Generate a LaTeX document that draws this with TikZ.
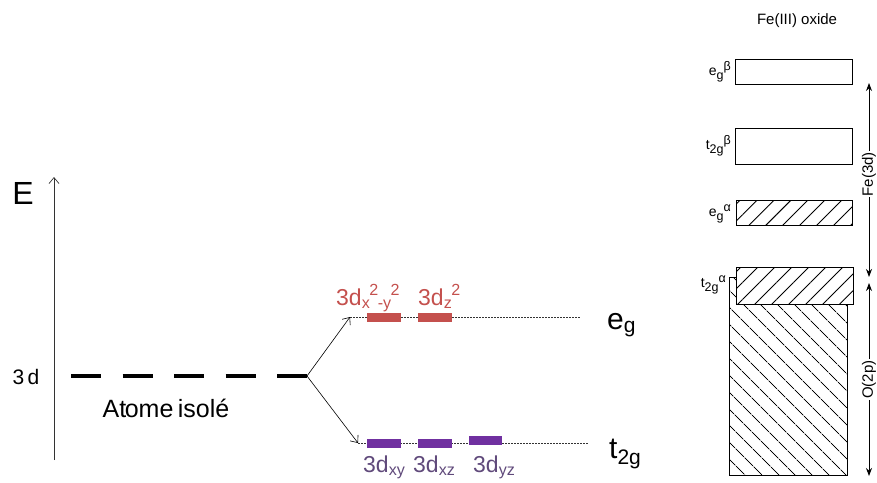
\documentclass[tikz,border=0pt]{standalone}
\usepackage{fontspec}
\setmainfont{Liberation Sans}
\usetikzlibrary{arrows.meta,patterns.meta}
\definecolor{egred}{RGB}{196,80,77}
\definecolor{tpurple}{RGB}{112,48,160}
\definecolor{tlabel}{RGB}{96,74,123}
\newcommand{\bsub}[1]{\raisebox{-3.5pt}{\fontsize{12.5}{13}\selectfont #1}}
\newcommand{\bsup}[1]{\raisebox{5pt}{\fontsize{12.5}{13}\selectfont #1}}
\tikzset{
  lvl/.style={draw=black!80, line width=0.6pt, dash pattern=on 2pt off 1pt},
  egbar/.style={fill=egred, draw=none},
  tbar/.style={fill=tpurple, draw=none},
  egtxt/.style={text=egred, font=\fontsize{23}{25}\selectfont, inner sep=0pt},
  ttxt/.style={text=tlabel, font=\fontsize{23}{25}\selectfont, inner sep=0pt},
  bandbox/.style={draw=black, line width=1pt, fill=white},
  bandlbl/.style={font=\fontsize{14}{16}\selectfont, inner sep=0pt, anchor=east},
  dbl/.style={{Stealth[length=8pt,width=6pt]}-{Stealth[length=8pt,width=6pt]}, line width=0.8pt},
  split/.style={-{Straight Barb[length=6pt,width=10pt]}, line width=0.6pt}
}
\begin{document}
\begin{tikzpicture}[x=1pt,y=-1pt]
\useasboundingbox (0,0) rectangle (877,482);
% ---------- left diagram ----------
\coordinate (axbot) at (54,460);
\coordinate (axtop) at (54,177);
\draw[-{Straight Barb[length=6pt,width=10pt]}, line width=0.7pt, black!80] (axbot) -- (axtop);
\node[font=\fontsize{32}{34}\selectfont, inner sep=0pt] (E) at (23,193) {E};
\node[font=\fontsize{21}{24}\selectfont, inner sep=0pt] (threed) at (26,377) {3\,d};
\coordinate (lvlstart) at (71,376);
\coordinate (splitpt) at (307,376);
\draw[line width=4.5pt, dash pattern=on 30pt off 21.5pt] (lvlstart) -- (splitpt);
\node[font=\fontsize{25}{27}\selectfont, inner sep=0pt, anchor=base] (atome) at (166,417) {At\kern-1.5pt ome\kern-2.5pt\ isolé};
\coordinate (egstart) at (350,317);
\coordinate (egend) at (580,317);
\coordinate (tstart) at (358,443);
\coordinate (tend) at (588,443);
\draw[lvl] (egstart) -- (egend);
\draw[lvl] (tstart) -- (tend);
\draw[split] (splitpt) -- (egstart);
\draw[split] (splitpt) -- (tstart);
% bars
\fill[egbar] (367,313) rectangle (401,322);
\fill[egbar] (418,313) rectangle (452,322);
\fill[tbar] (367,439) rectangle (401,448);
\fill[tbar] (418,439) rectangle (452,448);
\fill[tbar] (469,436) rectangle (502,445);
% labels
\node[egtxt, anchor=base west] (lx2y2) at (336,305) {3d\textsubscript{x}\kern-1pt\textsuperscript{2}\kern-1pt\textsubscript{-y}\kern-1pt\textsuperscript{2}};
\node[egtxt, anchor=base west] (lz2) at (418,305) {3d\textsubscript{z}\kern-1pt\textsuperscript{2}};
\node[ttxt, anchor=base west] (lxy) at (363,472) {3d\textsubscript{xy}};
\node[ttxt, anchor=base west] (lxz) at (413,472) {3d\textsubscript{xz}};
\node[ttxt, anchor=base west] (lyz) at (473,472) {3d\textsubscript{yz}};
\node[font=\fontsize{30}{32}\selectfont, inner sep=0pt, anchor=base west] (eg) at (607,329) {e\textsubscript{g}};
\node[font=\fontsize{30}{32}\selectfont, inner sep=0pt, anchor=base west] (t2g) at (609,458) {t\textsubscript{2g}};
% ---------- right diagram ----------
\node[font=\fontsize{15}{17}\selectfont, inner sep=0pt] (title) at (797,21) {Fe(III) oxide};
% O(2p) band
\draw[line width=1pt, pattern={Lines[angle=-45,distance=13pt,line width=0.9pt]}] (729,277) rectangle (847,475);
\draw[line width=1pt] (729,277) -- (735,277);
% t2g alpha
\draw[bandbox] (736,267) rectangle (853,304);
\path[pattern={Lines[angle=45,distance=12pt,line width=0.9pt]}] (736,267) rectangle (853,304);
% e_g alpha
\draw[bandbox] (736,200) rectangle (852,225);
\path[pattern={Lines[angle=45,distance=12pt,line width=0.9pt]}] (736,200) rectangle (852,225);
% beta boxes
\draw[bandbox] (735,128) rectangle (852,164);
\draw[bandbox] (735,59) rectangle (852,84);
% band labels
\node[bandlbl] (lebeta) at (731,72) {e\bsub{g}\bsup{β}};
\node[bandlbl] (ltbeta) at (731,146) {t\bsub{2g}\bsup{β}};
\node[bandlbl] (lealpha) at (731,214) {e\bsub{g}\bsup{α}};
\node[bandlbl] (ltalpha) at (726,285) {t\bsub{2g}\bsup{α}};
% side arrows
\coordinate (fetop) at (869,83);
\coordinate (febot) at (869,277);
\coordinate (otop) at (869,283);
\coordinate (obot) at (869,476);
\draw[dbl] (fetop) -- node[pos=0.47, fill=white, rotate=90, inner sep=1pt, font=\fontsize{15}{17}\selectfont] (fe3d) {Fe(3d)} (febot);
\draw[dbl] (otop) -- node[pos=0.5, fill=white, rotate=90, inner sep=1pt, font=\fontsize{15}{17}\selectfont] (o2p) {O(2p)} (obot);
\end{tikzpicture}
\end{document}
